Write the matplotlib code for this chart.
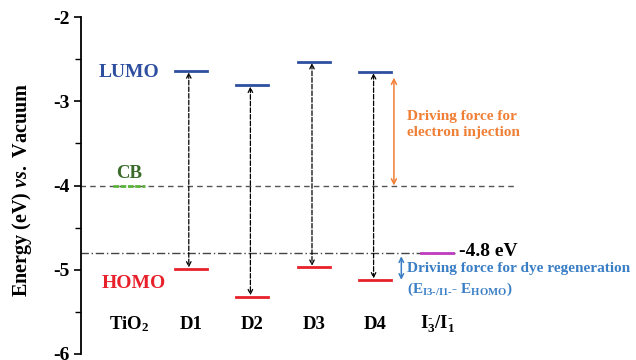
import matplotlib
matplotlib.use("Agg")
import matplotlib.pyplot as plt
from matplotlib.ticker import MultipleLocator

plt.rcParams['font.family'] = ['Liberation Serif', 'DejaVu Serif']
plt.rcParams['font.weight'] = 'bold'
plt.rcParams['axes.unicode_minus'] = False
plt.rcParams['mathtext.fontset'] = 'custom'
plt.rcParams['mathtext.default'] = 'regular'
plt.rcParams['mathtext.it'] = 'Liberation Serif:italic:bold'
plt.rcParams['mathtext.rm'] = 'Liberation Serif:bold'

# energy levels (eV vs. vacuum)
dyes = ['D1', 'D2', 'D3', 'D4']
lumo = [-2.64, -2.81, -2.53, -2.65]
homo = [-4.99, -5.32, -4.97, -5.12]
tio2_cb = -4.0
redox = -4.8
species = ['TiO$_2$', 'D1', 'D2', 'D3', 'D4', 'I$_3^{\\text{-}}$/I$_1^{\\text{-}}$']

fig = plt.figure(figsize=(6.36, 3.6), dpi=100)
ax = fig.add_axes([81 / 636, 6 / 360, 1 - 81 / 636, 337 / 360])

half = 0.26  # half width of a level bar

# reference lines through CB and redox level
ax.plot([-0.8, 6.27], [tio2_cb, tio2_cb], ls=(0, (4, 3)), color='#555555', lw=1.0)
ax.plot([-0.8, 5.3], [redox, redox], ls=(0, (6, 2, 1, 2)), color='#444444', lw=1.0)

# TiO2 conduction band
ax.plot([-half, half], [tio2_cb, tio2_cb], color='#5db33a', lw=2, ls=(0, (2, 0.6)))
# redox couple level
ax.plot([5 - half, 5 + half], [redox, redox], color='#c03cc0', lw=2)

for i, (lu, ho) in enumerate(zip(lumo, homo)):
    x = i + 1
    ax.plot([x - half, x + half], [lu, lu], color='#2e4fa0', lw=2)
    ax.plot([x - half, x + half], [ho, ho], color='#e8202a', lw=2)
    ax.annotate('', xy=(x - 0.03, ho), xytext=(x - 0.03, lu),
                arrowprops=dict(arrowstyle='<->', ls='--', color='black', lw=0.9,
                                shrinkA=1, shrinkB=1, mutation_scale=8))

# driving force arrows
ax.annotate('', xy=(4.3, -2.72), xytext=(4.3, tio2_cb),
            arrowprops=dict(arrowstyle='<->', color='#f07f35', lw=1.1,
                            shrinkA=0, shrinkB=0, mutation_scale=9))
ax.text(4.52, -3.28, 'Driving force for\nelectron injection', color='#f07f35',
        fontsize=11, va='center', ha='left', linespacing=1.3)

ax.annotate('', xy=(4.42, -4.84), xytext=(4.42, -5.12),
            arrowprops=dict(arrowstyle='<->', color='#3a7ec5', lw=1.1,
                            shrinkA=0, shrinkB=0, mutation_scale=8))
ax.text(4.52, -4.98, 'Driving force for dye regeneration', color='#3a7ec5',
        fontsize=11, va='center', ha='left')
ax.text(4.52, -5.23, '(E$_{\\text{I3-/I1-}}$- E$_{HOMO}$)', color='#3a7ec5',
        fontsize=11, va='center', ha='left')

ax.text(5.35, -4.78, '-4.8 eV', fontsize=14, va='center', ha='left', color='black')

# level labels
ax.text(0.0, -2.66, 'LUMO', color='#2e4fa0', fontsize=14, ha='center', va='center')
ax.text(0.07, -5.16, 'HOMO', color='#e8202a', fontsize=14, ha='center', va='center')
ax.text(0.0, -3.86, 'CB', color='#3a6b2a', fontsize=13.5, ha='center', va='center')

for i, name in enumerate(species):
    ax.text(i, -5.65, name, fontsize=13.5, ha='center', va='center')

ax.set_xlim(-0.78, 8.23)
ax.set_ylim(-6, -2)
ax.yaxis.set_major_locator(MultipleLocator(1))
ax.yaxis.set_minor_locator(MultipleLocator(0.5))
ax.tick_params(axis='y', which='major', length=5, width=1.2, labelsize=14, pad=3)
ax.tick_params(axis='y', which='minor', length=4, width=1.0)
ax.set_xticks([])
for side in ['top', 'right', 'bottom']:
    ax.spines[side].set_visible(False)
ax.spines['left'].set_linewidth(1.3)

fig.text(22 / 636, 0.472, 'Energy (eV) $\\mathit{vs.}$ Vacuum', rotation=90,
         fontsize=14.5, ha='center', va='center')

fig.savefig('out.png', dpi=100)
